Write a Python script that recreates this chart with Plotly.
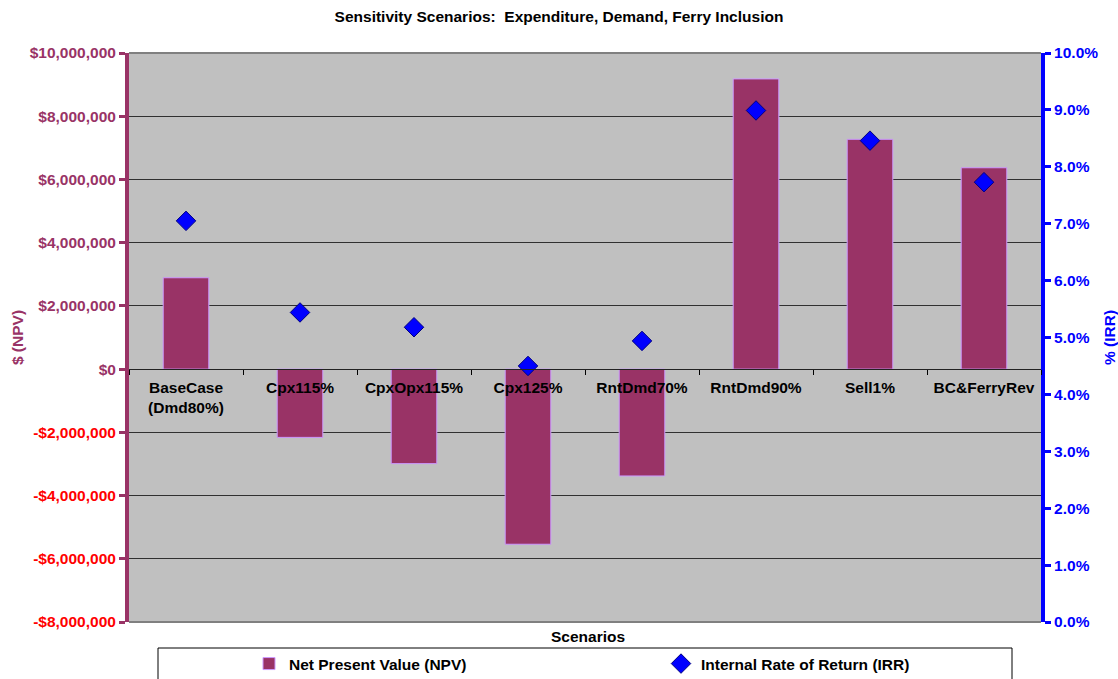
import plotly.graph_objects as go

categories = ["BaseCase (Dmd80%)", "Cpx115%", "CpxOpx115%", "Cpx125%",
              "RntDmd70%", "RntDmd90%", "Sell1%", "BC&FerryRev"]
category_labels = ["BaseCase<br>(Dmd80%)", "Cpx115%", "CpxOpx115%", "Cpx125%",
                   "RntDmd70%", "RntDmd90%", "Sell1%", "BC&FerryRev"]
npv = [2890000, -2160000, -2990000, -5540000, -3380000, 9180000, 7270000, 6370000]
irr = [0.0705, 0.0544, 0.0518, 0.0450, 0.0494, 0.0899, 0.0846, 0.0773]
npv_ticks = list(range(-8000000, 10000001, 2000000))
irr_ticks = [i / 100 for i in range(0, 11)]

MAROON = "#993366"
FONT = "Liberation Sans, Arial, sans-serif"
FS = 15.5

def fmt_money(v):
    if v < 0:
        return '<span style="color:#FF0000">-${:,}</span>'.format(-v)
    return "${:,}".format(v)

W, H = 1118, 679
L, R, T, B = 129, 77, 53, 57
pw, ph = W - L - R, H - T - B

def px_x(x):
    return (x - L) / pw

def px_y(y):
    return (H - B - y) / ph

fig = go.Figure()
fig.add_trace(go.Bar(
    x=categories, y=npv, name="<b>Net Present Value (NPV)</b>",
    marker=dict(color=MAROON, line=dict(color="#CC99FF", width=1)),
    width=0.4, yaxis="y", legend="legend",
))
fig.add_trace(go.Scatter(
    x=categories, y=irr, name="<b>Internal Rate of Return (IRR)</b>",
    mode="markers", yaxis="y2", legend="legend2",
    marker=dict(symbol="diamond", size=15, color="#0000FF",
                line=dict(color="#000080", width=1)),
))

y_min, y_max = npv_ticks[0], npv_ticks[-1]
zero_pos = (0 - y_min) / (y_max - y_min)

legend_common = dict(orientation="h", xanchor="left", yanchor="middle",
                     bgcolor="rgba(0,0,0,0)", borderwidth=0,
                     font=dict(size=FS, color="black", family=FONT))

fig.update_layout(
    width=W, height=H,
    margin=dict(l=L, r=R, t=T, b=B, pad=0, autoexpand=False),
    paper_bgcolor="white", plot_bgcolor="#C0C0C0",
    font=dict(family=FONT, size=FS, color="black"),
    title=dict(text="<b>Sensitivity Scenarios:\u00a0 Expenditure, Demand, Ferry Inclusion</b>",
               x=0.5, xref="container", xanchor="center",
               y=1 - 17 / H, yref="container", yanchor="middle",
               font=dict(size=FS, color="black")),
    showlegend=True,
    legend=dict(x=px_x(249), y=px_y(664), **legend_common),
    legend2=dict(x=px_x(661), y=px_y(664), **legend_common),
    xaxis=dict(
        type="category", anchor="free", position=zero_pos,
        tickmode="array", tickvals=categories, ticktext=["<b>%s</b>" % t for t in category_labels],
        tickson="boundaries", ticks="outside", ticklen=5, tickcolor="black", tickwidth=1,
        showline=True, linecolor="#222222", linewidth=1,
        showgrid=False, zeroline=False, ticklabelstandoff=4,
        tickfont=dict(size=FS, color="black"),
    ),
    yaxis=dict(
        range=[y_min, y_max], tickmode="array", tickvals=npv_ticks,
        ticktext=["<b>%s</b>" % fmt_money(v) for v in npv_ticks],
        tickfont=dict(size=FS, color=MAROON),
        ticks="outside", ticklen=6, tickwidth=3, tickcolor=MAROON,
        showline=True, linecolor=MAROON, linewidth=4, ticklabelstandoff=0,
        showgrid=True, gridcolor="#303030", gridwidth=1, zeroline=False,
        title=dict(text="<b>$ (NPV)</b>", font=dict(size=FS, color=MAROON), standoff=3),
    ),
    yaxis2=dict(
        range=[0, 0.10], overlaying="y", side="right", anchor="x",
        tickmode="array", tickvals=irr_ticks,
        ticktext=["<b>{:.1f}%</b>".format(v * 100) for v in irr_ticks],
        tickfont=dict(size=FS, color="#0000FF"),
        ticks="outside", ticklen=6, tickwidth=3, tickcolor="#0000FF",
        showline=True, linecolor="#0000FF", linewidth=4, ticklabelstandoff=0,
        showgrid=False, zeroline=False,
        title=dict(text="<b>% (IRR)</b>", font=dict(size=FS, color="#0000FF"), standoff=11),
    ),
)

# plot-area top/bottom border
fig.add_shape(type="line", xref="paper", yref="paper", x0=0, x1=1, y0=1, y1=1,
              line=dict(color="#808080", width=2), layer="above")
fig.add_shape(type="line", xref="paper", yref="paper", x0=0, x1=1, y0=0, y1=0,
              line=dict(color="#808080", width=2), layer="above")
# legend box
fig.add_shape(type="rect", xref="paper", yref="paper",
              x0=px_x(158), x1=px_x(1012), y0=px_y(648), y1=px_y(700),
              line=dict(color="black", width=1), fillcolor="white", layer="below")

fig.add_annotation(text="<b>Scenarios</b>", xref="paper", yref="paper",
                   x=px_x(588), y=px_y(636), xanchor="center", yanchor="middle",
                   showarrow=False, font=dict(size=FS, color="black"))

fig.write_html("out.html")
